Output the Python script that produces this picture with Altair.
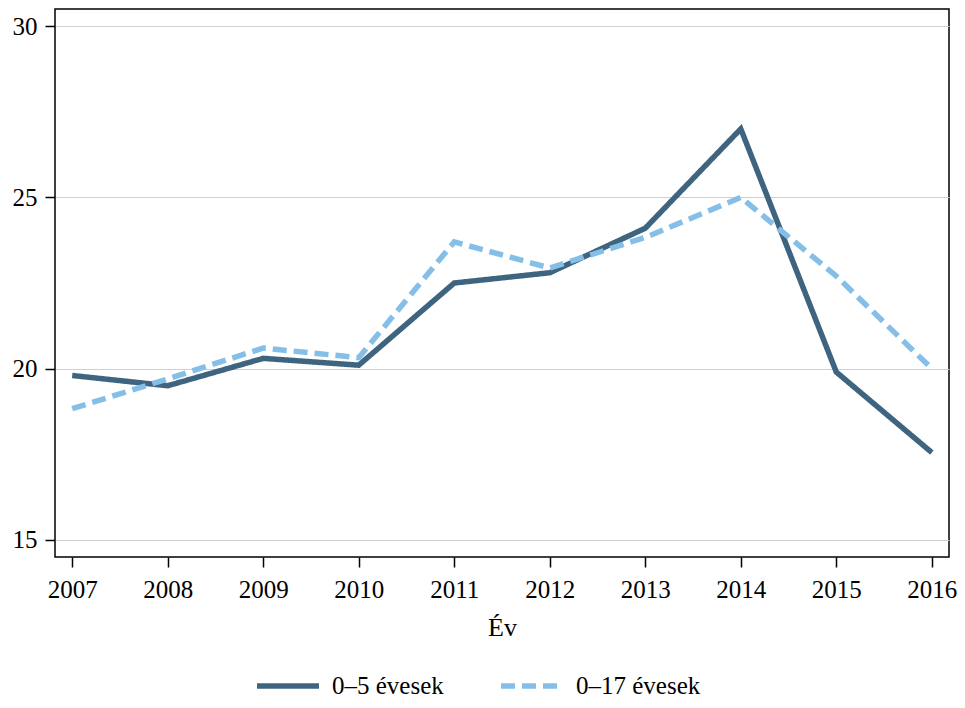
import altair as alt
import pandas as pd

years = [2007, 2008, 2009, 2010, 2011, 2012, 2013, 2014, 2015, 2016]
series_names = ["0–5 évesek", "0–17 évesek"]
age_0_5 = [19.8, 19.5, 20.3, 20.1, 22.5, 22.8, 24.1, 27.0, 19.9, 17.55]
age_0_17 = [18.83, 19.7, 20.6, 20.32, 23.7, 22.94, 23.83, 25.0, 22.7, 20.0]
y_ticks = [15, 20, 25, 30]
colors = ["#3e6480", "#85bfe8"]
dashes = [[1, 0], [14, 7]]

rows = []
for name, vals in zip(series_names, [age_0_5, age_0_17]):
    for yr, v in zip(years, vals):
        rows.append({"year": yr, "value": v, "series": name})
df = pd.DataFrame(rows)

FONT = "Liberation Serif"

legend_opts = dict(
    title=None,
    orient="none",
    direction="horizontal",
    legendX=199,
    legendY=643,
    symbolType="stroke",
    symbolSize=3844,
    symbolStrokeWidth=5.5,
    labelFont=FONT,
    labelFontSize=25,
    labelColor="black",
    labelOffset=10,
    columnPadding=46,
    padding=0,
)

chart = (
    alt.Chart(df)
    .mark_line(strokeWidth=5.5, strokeCap="butt")
    .encode(
        x=alt.X(
            "year:Q",
            scale=alt.Scale(domain=[2006.82, 2016.18], nice=False, zero=False),
            axis=alt.Axis(
                values=years,
                format="d",
                title="Év",
                grid=False,
                domain=False,
                tickSize=10,
                tickWidth=1.5,
                tickColor="black",
                labelFont=FONT,
                labelFontSize=25,
                labelColor="black",
                labelPadding=10,
                labelFlush=False,
                labelOverlap=False,
                titleFont=FONT,
                titleFontSize=26,
                titleFontWeight="normal",
                titleColor="black",
                titlePadding=12,
            ),
        ),
        y=alt.Y(
            "value:Q",
            scale=alt.Scale(domain=[14.5, 30.5], nice=False, zero=False),
            axis=alt.Axis(
                values=y_ticks,
                title=None,
                grid=True,
                gridColor="#cfcfcf",
                gridWidth=1,
                domain=False,
                tickSize=10,
                tickWidth=1.5,
                tickColor="black",
                labelFont=FONT,
                labelFontSize=25,
                labelColor="black",
                labelPadding=8,
                labelFlush=False,
                labelOverlap=False,
            ),
        ),
        color=alt.Color(
            "series:N",
            scale=alt.Scale(domain=series_names, range=colors),
            sort=series_names,
            legend=alt.Legend(**legend_opts),
        ),
        strokeDash=alt.StrokeDash(
            "series:N",
            scale=alt.Scale(domain=series_names, range=dashes),
            sort=series_names,
            legend=alt.Legend(**legend_opts),
        ),
    )
    .properties(
        width=894,
        height=548,
        background="white",
        autosize=alt.AutoSizeParams(type="none"),
        padding={"left": 47, "top": 1, "right": 8, "bottom": 143},
    )
    .configure_view(stroke="black", strokeWidth=1.5)
)

chart.save("out.html", embed_options={"renderer": "svg", "actions": False})
